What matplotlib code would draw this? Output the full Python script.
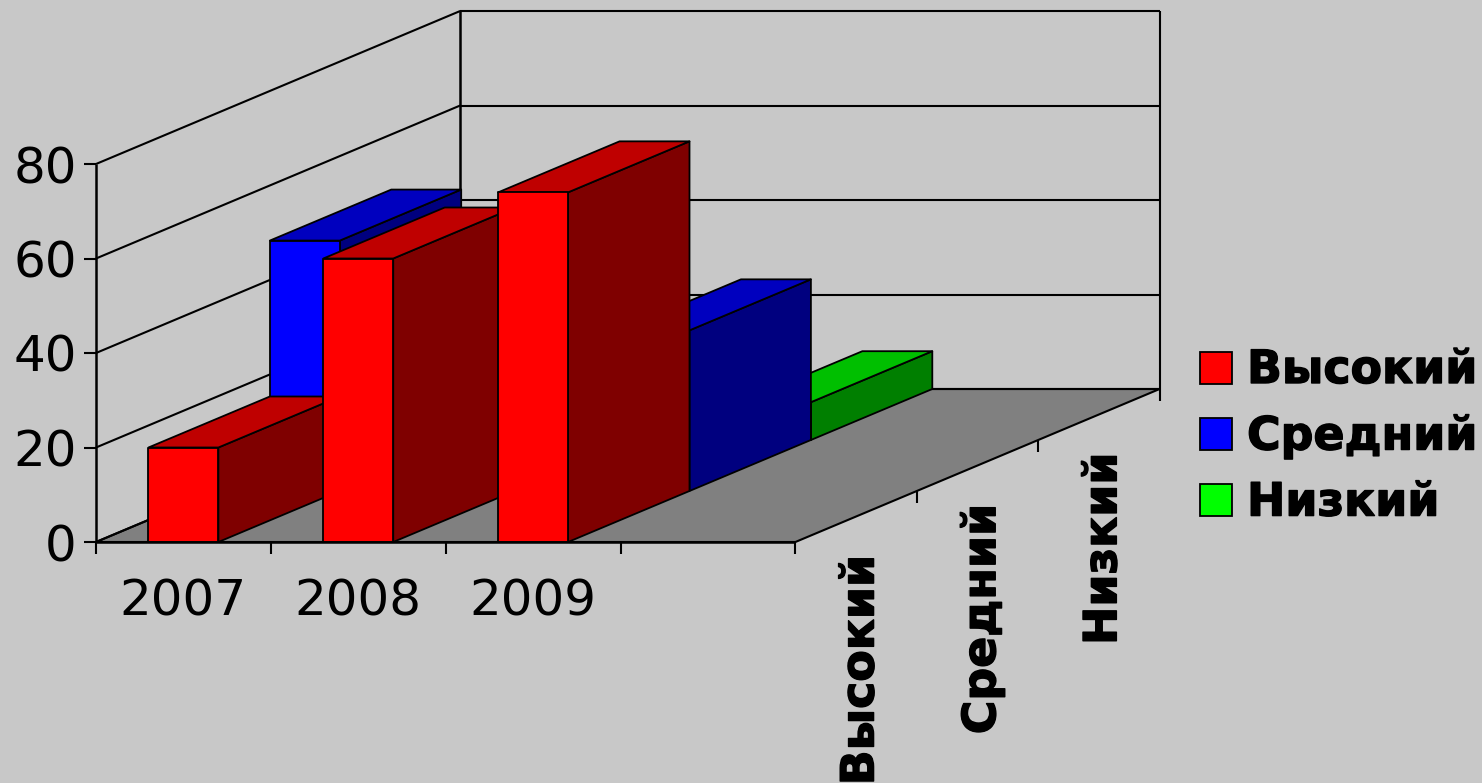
import matplotlib
matplotlib.use("Agg")
import matplotlib.pyplot as plt
import matplotlib.patheffects as pe
from matplotlib.patches import Polygon, Rectangle

plt.rcParams['font.family'] = ['DejaVu Sans']

years = ["2007", "2008", "2009"]
series = ["Высокий", "Средний", "Низкий"]
vysokiy = [20, 60, 74]
sredniy = [53, 30, 34]
nizkiy = [5, 5, 8]
y_ticks = [0, 20, 40, 60, 80]

# front faces, then top and side shading
colors = {"Высокий": ("#ff0000", "#bf0000", "#7f0000"),
          "Средний": ("#0000ff", "#0000bf", "#00007f"),
          "Низкий": ("#00ff00", "#00bf00", "#007f00")}
values = {"Высокий": vysokiy, "Средний": sredniy, "Низкий": nizkiy}

BG = "#c8c8c8"

# oblique projection, x = category slot, d = series depth, v = value
def pr(x, d, v):
    return (96 + 174.85 * x + 121.4 * d, 542 - 51 * d - 4.725 * v)

fig = plt.figure(figsize=(14.82, 7.83), dpi=100, facecolor=BG)
ax = fig.add_axes([0, 0, 1, 1])
ax.set_xlim(0, 1482)
ax.set_ylim(783, 0)
ax.axis("off")

n_slots = len(years) + 1
n_depth = len(series)
heavy = [pe.withStroke(linewidth=1.0, foreground="black")]

def line(a, b, lw=1.5, z=1.5):
    ax.plot([a[0], b[0]], [a[1], b[1]], color="black", lw=lw, solid_capstyle="butt", zorder=z)

# floor
ax.add_patch(Polygon([pr(0, 0, 0), pr(n_slots, 0, 0), pr(n_slots, n_depth, 0), pr(0, n_depth, 0)],
                     fc="#808080", ec="black", lw=1.5, zorder=1))

# walls and grid
for v in y_ticks:
    line(pr(0, 0, v), pr(0, n_depth, v))
    line(pr(0, n_depth, v), pr(n_slots, n_depth, v))
line(pr(0, n_depth, 0), pr(0, n_depth, 80), 1.8)
line(pr(n_slots, n_depth, 0), pr(n_slots, n_depth, 80), 1.5)
line(pr(0, 0, 0), pr(0, 0, 80), 1.8)

# y ticks
for v in y_ticks:
    p = pr(0, 0, v)
    line((p[0] - 12, p[1]), p)
    ax.text(p[0] - 19, p[1] + 5, str(v), ha="right", va="center", fontsize=36, color="black")

# x ticks
for i in range(n_slots + 1):
    p = pr(i, 0, 0)
    line(p, (p[0], p[1] + 12))
for i, y in enumerate(years):
    p = pr(i + 0.5, 0, 0)
    ax.text(p[0], 601, y, ha="center", va="center", fontsize=36, color="black")

# depth ticks
for d in range(1, n_depth + 1):
    p = pr(n_slots, d, 0)
    line(p, (p[0], p[1] + 12))
for d, s in enumerate(series):
    p = pr(n_slots, d + 0.5, 0)
    ax.text(p[0] + 5, p[1] + 38, s, rotation=90, ha="center", va="top",
            fontsize=33, fontweight="bold", color="black", path_effects=heavy)

# bars, back series first
BAR_L, BAR_R = 0.3, 0.7
z = 3
for d in range(n_depth - 1, -1, -1):
    s = series[d]
    front, top, side = colors[s]
    for i, v in enumerate(values[s]):
        l, r = i + BAR_L, i + BAR_R
        ax.add_patch(Polygon([pr(r, d, 0), pr(r, d + 1, 0), pr(r, d + 1, v), pr(r, d, v)],
                             fc=side, ec="black", lw=1.3, joinstyle="round", zorder=z))
        ax.add_patch(Polygon([pr(l, d, v), pr(r, d, v), pr(r, d + 1, v), pr(l, d + 1, v)],
                             fc=top, ec="black", lw=1.3, joinstyle="round", zorder=z))
        ax.add_patch(Polygon([pr(l, d, 0), pr(r, d, 0), pr(r, d, v), pr(l, d, v)],
                             fc=front, ec="black", lw=1.3, joinstyle="round", zorder=z))
        z += 1

# front edge of the floor on top of the bars
line(pr(0, 0, 0), pr(n_slots, 0, 0), 1.8, z)

# legend
for k, s in enumerate(series):
    yc = 367.5 + 66.3 * k
    ax.add_patch(Rectangle((1200, yc - 16), 32, 32, fc=colors[s][0], ec="black", lw=1.3))
    ax.text(1247, yc + 3, s, ha="left", va="center", fontsize=33, fontweight="bold",
            color="black", path_effects=heavy)

fig.savefig("out.png", dpi=100, facecolor=BG)
